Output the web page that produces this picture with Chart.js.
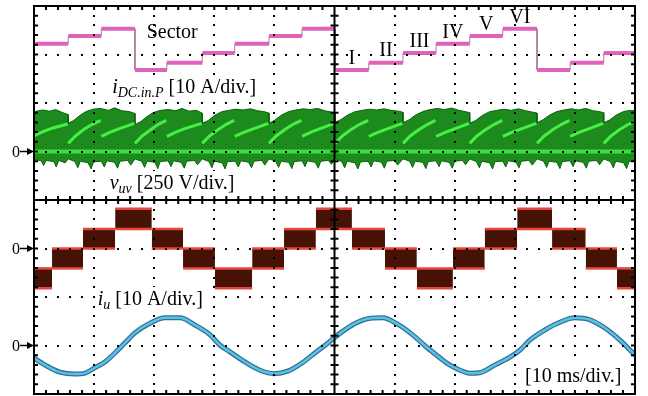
<!DOCTYPE html>
<html>
<head>
<title>Sector staircase, v_uv and i_u scope capture</title>
<script src="https://cdn.jsdelivr.net/npm/chart.js"></script>
<style>
  body { margin: 0; background: #fff; }
</style>
</head>
<body>
<canvas id="scope" width="648" height="396"></canvas>
<script>
// time axis: 10 ms/div, 10 divisions; vertical axis in screen divisions
const timeRange = [0, 100];
const divRange = [-4, 4];

// sector staircase of i_DC.in.P (screen divisions)
const sectorNames = ['I', 'II', 'III', 'IV', 'V', 'VI'];
const sectorLevel = [2.68, 2.83, 3.03, 3.22, 3.38, 3.53];
const sectorEdges = [0, 5.7, 11.2, 16.8, 22.1, 28.0, 33.4, 39.1, 44.6, 50.1, 55.7, 61.4, 66.9, 72.5, 78.0, 83.7, 89.2, 94.8, 100];
const sectorSeq = [4, 5, 6, 1, 2, 3, 4, 5, 6, 1, 2, 3, 4, 5, 6, 1, 2, 3];

// i_u chopped current band [A], 10 A/div, zero at -1 div
const iuEdges = [0, 3.0, 8.15, 13.5, 19.6, 24.8, 30.1, 36.3, 41.6, 46.9, 52.9, 58.4, 63.7, 69.7, 75.0, 80.4, 86.2, 91.8, 97.0, 100];
const iuHigh = [-4.1, 0, 4, 8.2, 4, 0, -4.1, 0, 4, 8.2, 4, 0, -4.1, 0, 4, 8.2, 4, 0, -4.1];
const iuLow = [-8.2, -4.1, 0, 4, 0, -4.1, -8.2, -4.1, 0, 4, 0, -4.1, -8.2, -4.1, 0, 4, 0, -4.1, -8.2];

// v_uv PWM band [V], 250 V/div, zero at +1 div
const vuvTop = [
  [0, 205], [1.4, 214], [2.6, 208], [3.6, 216], [4.8, 200], [5.7, 190],
  [5.7, 145], [6.6, 160], [7.6, 185], [8.6, 205], [9.8, 218], [11.0, 222], [12.4, 212], [13.4, 225], [14.6, 210], [15.8, 206], [16.8, 196],
  [16.8, 138], [17.8, 155], [18.8, 180], [19.8, 200], [21.0, 212], [22.4, 216], [23.6, 210], [24.6, 222], [25.8, 208], [27.0, 212], [28.0, 198],
  [28.0, 145], [29.0, 160], [30.0, 185], [31.2, 205], [32.4, 212], [33.6, 218], [34.8, 214], [36.0, 220], [37.2, 210], [38.2, 206], [39.1, 198],
  [39.1, 145], [40.1, 162], [41.2, 188], [42.4, 206], [43.6, 214], [44.8, 220], [46.0, 216], [47.2, 222], [48.4, 210], [49.4, 204], [50.1, 200],
  [50.1, 150], [51.1, 165], [52.2, 188], [53.4, 205], [54.6, 212], [55.8, 218], [57.0, 214], [58.2, 220], [59.4, 212], [60.6, 208], [61.4, 202],
  [61.4, 148], [62.4, 163], [63.5, 188], [64.7, 206], [65.9, 216], [67.1, 222], [68.3, 216], [69.5, 224], [70.7, 212], [71.7, 206], [72.5, 200],
  [72.5, 145], [73.5, 160], [74.6, 186], [75.8, 205], [77.0, 212], [78.2, 218], [79.4, 212], [80.6, 220], [81.8, 210], [82.8, 204], [83.7, 198],
  [83.7, 148], [84.7, 164], [85.8, 188], [87.0, 206], [88.2, 214], [89.4, 220], [90.6, 214], [91.8, 222], [93.0, 210], [94.0, 206], [94.8, 200],
  [94.8, 148], [95.8, 163], [96.9, 188], [98.1, 206], [99.2, 212], [100, 210]
];
const vuvBottom = [
  [0, -40], [1.2, -48], [1.6, -72], [2.0, -46], [3.3, -52], [3.7, -80], [4.1, -46], [5.2, -58], [5.7, -38],
  [6.8, -52], [7.3, -84], [7.7, -50], [9.0, -58], [9.5, -90], [9.9, -54], [11.2, -50], [11.7, -80], [12.1, -48], [13.4, -55], [13.9, -86], [14.3, -50], [15.6, -46], [16.1, -70], [16.8, -38],
  [17.9, -50], [18.4, -82], [18.8, -50], [20.1, -56], [20.6, -88], [21.0, -52], [22.3, -48], [22.8, -78], [23.2, -48], [24.5, -56], [25.0, -86], [25.4, -50], [26.7, -46], [27.2, -68], [28.0, -38],
  [29.1, -52], [29.6, -84], [30.0, -50], [31.3, -58], [31.8, -90], [32.2, -52], [33.5, -50], [34.0, -80], [34.4, -48], [35.7, -55], [36.2, -84], [36.6, -50], [37.9, -46], [38.4, -70], [39.1, -38],
  [40.2, -50], [40.7, -82], [41.1, -50], [42.4, -56], [42.9, -88], [43.3, -52], [44.6, -48], [45.1, -78], [45.5, -48], [46.8, -56], [47.3, -86], [47.7, -50], [49.0, -46], [49.5, -66], [50.1, -38],
  [51.2, -52], [51.7, -84], [52.1, -50], [53.4, -58], [53.9, -90], [54.3, -54], [55.6, -50], [56.1, -80], [56.5, -48], [57.8, -55], [58.3, -86], [58.7, -50], [60.0, -46], [60.5, -70], [61.4, -38],
  [62.5, -50], [63.0, -82], [63.4, -50], [64.7, -56], [65.2, -88], [65.6, -52], [66.9, -48], [67.4, -78], [67.8, -48], [69.1, -56], [69.6, -86], [70.0, -50], [71.3, -46], [71.8, -68], [72.5, -38],
  [73.6, -52], [74.1, -84], [74.5, -50], [75.8, -58], [76.3, -90], [76.7, -52], [78.0, -50], [78.5, -80], [78.9, -48], [80.2, -55], [80.7, -84], [81.1, -50], [82.4, -46], [82.9, -70], [83.7, -38],
  [84.8, -50], [85.3, -82], [85.7, -50], [87.0, -56], [87.5, -88], [87.9, -52], [89.2, -48], [89.7, -78], [90.1, -48], [91.4, -56], [91.9, -86], [92.3, -50], [93.6, -46], [94.1, -68], [94.8, -38],
  [95.9, -52], [96.4, -84], [96.8, -50], [98.1, -58], [98.6, -88], [99.0, -52], [100, -46]
];
const vuvRidge = [
  [0, 80], [1.5, 102], [3.0, 120], [5.6, 142], [5.6, null],
  [5.7, 42], [6.9, 80], [8.2, 112], [9.7, 140], [11.1, 160], [11.1, null],
  [11.2, 78], [12.7, 100], [14.2, 118], [16.7, 145], [16.7, null],
  [16.8, 42], [18.0, 80], [19.4, 112], [20.7, 140], [22.0, 160], [22.0, null],
  [22.1, 78], [23.6, 100], [25.1, 118], [27.9, 145], [27.9, null],
  [28.0, 42], [29.2, 80], [30.6, 112], [32.0, 140], [33.3, 160], [33.3, null],
  [33.4, 78], [35.0, 100], [36.6, 118], [39.0, 145], [39.0, null],
  [39.1, 42], [40.3, 80], [41.7, 112], [43.1, 140], [44.5, 160], [44.5, null],
  [44.6, 78], [46.1, 100], [47.6, 118], [50.0, 145], [50.0, null],
  [50.1, 42], [51.3, 80], [52.7, 112], [54.2, 140], [55.6, 160], [55.6, null],
  [55.7, 78], [57.3, 100], [58.9, 118], [61.3, 145], [61.3, null],
  [61.4, 42], [62.6, 80], [64.0, 112], [65.5, 140], [66.8, 160], [66.8, null],
  [66.9, 78], [68.5, 100], [70.1, 118], [72.4, 145], [72.4, null],
  [72.5, 42], [73.7, 80], [75.1, 112], [76.6, 140], [77.9, 160], [77.9, null],
  [78.0, 78], [79.6, 100], [81.2, 118], [83.6, 145], [83.6, null],
  [83.7, 42], [84.9, 80], [86.3, 112], [87.8, 140], [89.1, 160], [89.1, null],
  [89.2, 78], [90.8, 100], [92.4, 118], [94.7, 145], [94.7, null],
  [94.8, 42], [96.0, 80], [97.4, 112], [98.9, 140], [100, 152]
];
const vuvZero = [[0, 0], [100, 0]];

// filtered sinusoidal current [A], 10 A/div, zero at -3 div
const iSine = [
  [0, -2.6], [1.8, -4.0], [4.3, -5.5], [6.8, -5.9], [8.5, -5.7], [10.1, -4.6], [11.8, -3.4], [13.5, -1.5],
  [15.1, 0.5], [16.8, 2.6], [19.3, 4.6], [21.8, 5.7], [24.3, 5.7], [26.8, 4.2], [29.3, 2.2], [30.9, 0.1],
  [32.6, -1.3], [35.1, -3.4], [37.6, -5.1], [40.0, -5.8], [42.2, -5.3], [44.6, -3.6], [47.0, -1.3], [48.6, 0.2],
  [51.0, 2.6], [53.5, 4.6], [56.0, 5.6], [58.0, 5.7], [60.5, 4.4], [63.0, 2.2], [65.0, 0.0], [66.8, -1.8],
  [68.9, -3.8], [70.9, -5.1], [72.5, -5.7], [74.2, -5.6], [76.7, -4.0], [79.2, -2.4], [80.9, -0.9], [82.5, 1.1],
  [85.0, 3.2], [87.5, 4.8], [90.0, 5.7], [92.5, 5.3], [95.0, 3.6], [97.5, 1.1], [100, -2.0]
];

// channel zero markers (div)
const zeroMarks = [1, -1, -3];

const toDiv = (zero, perDiv) => v => (v === null ? null : zero + v / perDiv);
const vuvDiv = toDiv(1, 250);
const iuDiv = toDiv(-1, 10);
const sineDiv = toDiv(-3, 10);

function stepPoints(edges, values, map) {
  const pts = [];
  values.forEach((v, i) => {
    pts.push({ x: edges[i], y: map(v) }, { x: edges[i + 1], y: map(v) });
  });
  return pts;
}
const pairPoints = (list, map) => list.map(([t, v]) => ({ x: t, y: map(v) }));

const sectorPts = stepPoints(sectorEdges, sectorSeq.map(s => sectorLevel[s - 1]), v => v);
const isVertical = c => c.p0.parsed.x === c.p1.parsed.x;

const serif = 'Liberation Serif, Times New Roman, serif';

function richText(ctx, x, cy, parts, box) {
  ctx.textAlign = 'left';
  ctx.textBaseline = 'alphabetic';
  let w = 0;
  parts.forEach(p => { ctx.font = p.font; w += ctx.measureText(p.t).width; });
  if (box) {
    ctx.fillStyle = '#fff';
    ctx.fillRect(x - 2, cy - 11, w + 4, 23);
  }
  ctx.fillStyle = '#000';
  let cx = x;
  parts.forEach(p => {
    ctx.font = p.font;
    ctx.fillText(p.t, cx, cy + 7 + (p.dy || 0));
    cx += ctx.measureText(p.t).width;
  });
}

const scopeFrame = {
  id: 'scopeFrame',
  afterDatasetsDraw(chart) {
    const { ctx, chartArea: a, scales: { x, y } } = chart;
    ctx.save();
    ctx.fillStyle = '#000';
    // dotted graticule, dots every 1/5 division
    for (let d = 1; d < 10; d++) {
      if (d === 5) continue;
      const px = Math.round(x.getPixelForValue(d * 10));
      for (let s = 1; s < 40; s++) {
        const py = Math.round(y.getPixelForValue(-4 + s * 0.2));
        ctx.fillRect(px - 1, py - 1, 2, 2);
      }
    }
    for (let d = -3; d <= 3; d++) {
      if (d === 0) continue;
      const py = Math.round(y.getPixelForValue(d));
      for (let s = 1; s < 50; s++) {
        const px = Math.round(x.getPixelForValue(s * 2));
        ctx.fillRect(px - 1, py - 1, 2, 2);
      }
    }
    ctx.strokeStyle = '#000';
    ctx.lineWidth = 2;
    const cx = x.getPixelForValue(50), cy = y.getPixelForValue(0);
    ctx.beginPath();
    ctx.moveTo(cx, a.top); ctx.lineTo(cx, a.bottom);
    ctx.moveTo(a.left, cy); ctx.lineTo(a.right, cy);
    // minor ticks on centre lines and frame
    for (let s = 1; s < 50; s++) {
      const px = x.getPixelForValue(s * 2);
      ctx.moveTo(px, cy - 4); ctx.lineTo(px, cy + 4);
      ctx.moveTo(px, a.top); ctx.lineTo(px, a.top + 4);
      ctx.moveTo(px, a.bottom); ctx.lineTo(px, a.bottom - 4);
    }
    for (let s = 1; s < 40; s++) {
      const py = y.getPixelForValue(-4 + s * 0.2);
      ctx.moveTo(cx - 4, py); ctx.lineTo(cx + 4, py);
      ctx.moveTo(a.left, py); ctx.lineTo(a.left + 4, py);
      ctx.moveTo(a.right, py); ctx.lineTo(a.right - 4, py);
    }
    ctx.stroke();
    ctx.strokeRect(a.left, a.top, a.right - a.left, a.bottom - a.top);
    ctx.restore();
  },
  afterDraw(chart) {
    const { ctx, scales: { x, y } } = chart;
    ctx.save();
    // channel zero markers
    zeroMarks.forEach(z => {
      const py = y.getPixelForValue(z);
      ctx.fillStyle = '#000';
      ctx.font = '16px ' + serif;
      ctx.textAlign = 'right';
      ctx.textBaseline = 'middle';
      ctx.fillText('0', 20, py + 1);
      ctx.lineWidth = 1.5;
      ctx.strokeStyle = '#000';
      ctx.beginPath(); ctx.moveTo(20, py); ctx.lineTo(29, py); ctx.stroke();
      ctx.beginPath(); ctx.moveTo(27, py - 3.5); ctx.lineTo(34, py); ctx.lineTo(27, py + 3.5); ctx.closePath(); ctx.fill();
    });
    // sector labels
    ctx.fillStyle = '#000';
    ctx.textAlign = 'center';
    ctx.textBaseline = 'middle';
    ctx.font = '20px ' + serif;
    ctx.fillText('Sector', x.getPixelForValue(23), y.getPixelForValue(3.45));
    for (let i = 9; i < 15; i++) {
      const s = sectorSeq[i];
      const tx = x.getPixelForValue((sectorEdges[i] + sectorEdges[i + 1]) / 2);
      const ty = y.getPixelForValue(sectorLevel[s - 1]) - 11.5;
      ctx.fillText(sectorNames[s - 1], tx, ty);
    }
    const it = 'italic 20px ' + serif, sub = 'italic 14px ' + serif, rm = '20px ' + serif;
    richText(ctx, x.getPixelForValue(13), y.getPixelForValue(2.35),
      [{ t: 'i', font: it }, { t: 'DC.in.P', font: sub, dy: 4 }, { t: ' [10 A/div.]', font: rm }], true);
    richText(ctx, x.getPixelForValue(12.6), y.getPixelForValue(0.37),
      [{ t: 'v', font: it }, { t: 'uv', font: sub, dy: 4 }, { t: ' [250 V/div.]', font: rm }], true);
    richText(ctx, x.getPixelForValue(10.6), y.getPixelForValue(-2.02),
      [{ t: 'i', font: it }, { t: 'u', font: sub, dy: 4 }, { t: ' [10 A/div.]', font: rm }], true);
    richText(ctx, x.getPixelForValue(81.7), y.getPixelForValue(-3.6),
      [{ t: '[10 ms/div.]', font: rm }], true);
    ctx.restore();
  }
};

new Chart(document.getElementById('scope'), {
  type: 'line',
  data: {
    datasets: [
      { label: 'vuv low', data: pairPoints(vuvBottom, vuvDiv), borderColor: '#0c600c', borderWidth: 1, fill: false, order: 50 },
      { label: 'vuv high', data: pairPoints(vuvTop, vuvDiv), borderColor: '#0c600c', borderWidth: 1, backgroundColor: '#1c8a1c', fill: '-1', order: 50 },
      { label: 'vuv zero', data: pairPoints(vuvZero, vuvDiv), borderColor: '#3fdc3f', borderWidth: 4, order: 40 },
      { label: 'vuv ridge', data: pairPoints(vuvRidge, vuvDiv), borderColor: '#46ee46', borderWidth: 3, order: 40 },
      { label: 'iu low', data: stepPoints(iuEdges, iuLow, iuDiv), borderColor: '#e8463c', borderWidth: 2.5, fill: false, order: 30,
        segment: { borderColor: c => (isVertical(c) ? 'rgba(0,0,0,0)' : undefined) } },
      { label: 'iu high', data: stepPoints(iuEdges, iuHigh, iuDiv), borderColor: '#e8463c', borderWidth: 2.5, backgroundColor: '#461205', fill: '-1', order: 30,
        segment: { borderColor: c => (isVertical(c) ? 'rgba(0,0,0,0)' : undefined) } },
      { label: 'sine edge', data: pairPoints(iSine, sineDiv), borderColor: '#2f6e9e', borderWidth: 5, cubicInterpolationMode: 'monotone', order: 20 },
      { label: 'sine', data: pairPoints(iSine, sineDiv), borderColor: '#5cc2dc', borderWidth: 2.5, cubicInterpolationMode: 'monotone', order: 19 },
      { label: 'sector', data: sectorPts, borderColor: '#e062bb', borderWidth: 4, order: 10,
        segment: {
          borderColor: c => (isVertical(c) ? 'rgba(170,110,150,0.9)' : undefined),
          borderWidth: c => (isVertical(c) ? 1 : undefined)
        } }
    ]
  },
  options: {
    responsive: false,
    animation: false,
    events: [],
    layout: { padding: { left: 34, right: 13, top: 6, bottom: 2 } },
    elements: { point: { radius: 0 }, line: { borderCapStyle: 'butt' } },
    scales: {
      x: { type: 'linear', min: timeRange[0], max: timeRange[1], display: false },
      y: { type: 'linear', min: divRange[0], max: divRange[1], display: false }
    },
    plugins: { legend: { display: false }, tooltip: { enabled: false } }
  },
  plugins: [scopeFrame]
});
</script>
</body>
</html>
